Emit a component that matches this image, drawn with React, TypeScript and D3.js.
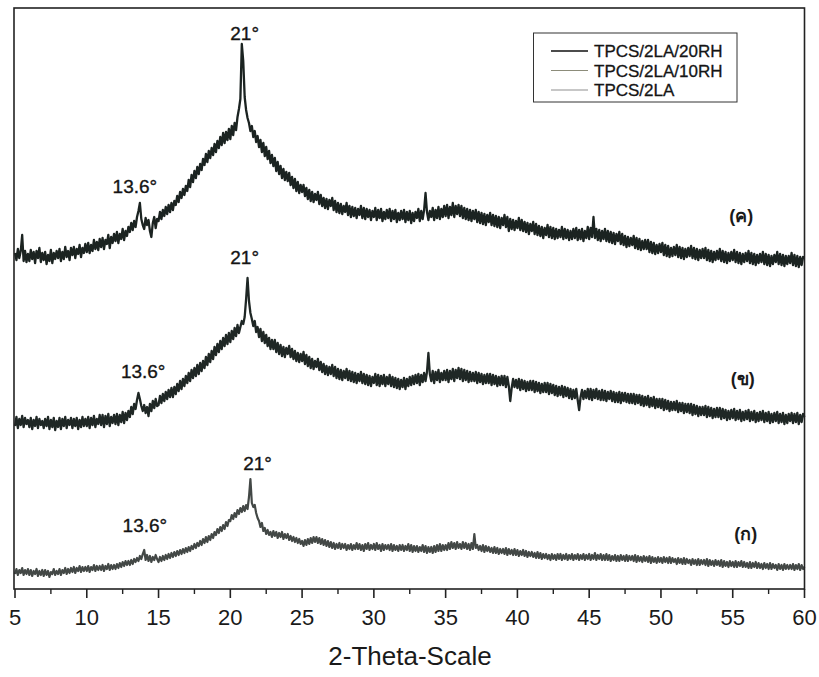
import React from "react";
import * as d3 from "d3";

// Sampling grid: 2θ from 5° to 60° every 0.1°
const THETA_START = 5;
const THETA_STEP = 0.1;

// TPCS/2LA/20RH  (ค) – intensity (a.u.), one row per degree
const SERIES_20RH = [
  336, 329, 340, 331, 338, 354, 328, 338, 327, 335,
  328, 339, 330, 337, 326, 338, 331, 341, 327, 336,
  329, 337, 325, 334, 328, 339, 326, 336, 330, 338,
  331, 340, 328, 337, 330, 342, 332, 338, 329, 341,
  334, 342, 331, 340, 335, 344, 332, 341, 336, 345,
  337, 346, 336, 344, 338, 349, 340, 347, 339, 350,
  342, 351, 340, 349, 345, 354, 341, 352, 346, 355,
  348, 357, 346, 355, 350, 360, 349, 358, 353, 362,
  357, 366, 359, 368, 362, 372, 378, 386, 370, 364,
  360, 371, 364, 369, 358, 352, 366, 372, 361, 370,
  368, 377, 370, 379, 373, 382, 375, 384, 377, 386,
  379, 388, 384, 393, 387, 397, 391, 400, 394, 403,
  398, 409, 402, 414, 407, 418, 411, 422, 415, 425,
  419, 430, 424, 435, 427, 438, 431, 441, 434, 445,
  437, 448, 441, 452, 444, 456, 446, 457, 449, 460,
  450, 463, 454, 466, 459, 472, 480, 490, 545, 528,
  492, 479, 471, 466, 458, 463, 452, 458, 447, 453,
  442, 449, 437, 446, 433, 442, 430, 438, 426, 434,
  423, 431, 418, 427, 415, 423, 411, 420, 409, 417,
  408, 416, 404, 412, 401, 410, 398, 407, 396, 404,
  397, 404, 393, 401, 390, 399, 388, 397, 387, 395,
  389, 397, 385, 394, 383, 391, 381, 390, 380, 389,
  383, 391, 379, 388, 377, 386, 376, 385, 375, 383,
  377, 386, 374, 383, 372, 382, 373, 381, 371, 380,
  374, 383, 371, 381, 370, 380, 372, 379, 369, 378,
  372, 381, 369, 379, 371, 380, 368, 377, 370, 379,
  371, 380, 368, 378, 370, 379, 367, 376, 369, 378,
  370, 379, 367, 377, 369, 378, 366, 376, 368, 377,
  371, 380, 368, 378, 370, 379, 396, 377, 369, 378,
  372, 381, 369, 379, 371, 382, 370, 380, 372, 383,
  373, 384, 371, 382, 374, 386, 372, 383, 375, 384,
  373, 383, 371, 381, 370, 380, 369, 379, 368, 378,
  370, 379, 367, 377, 366, 376, 365, 375, 364, 374,
  367, 376, 364, 374, 363, 373, 362, 372, 361, 371,
  364, 374, 362, 372, 358, 370, 360, 369, 359, 368,
  361, 371, 359, 369, 358, 367, 357, 366, 355, 365,
  358, 367, 355, 365, 354, 363, 353, 362, 351, 361,
  354, 364, 352, 362, 351, 361, 350, 360, 351, 359,
  352, 362, 350, 360, 351, 359, 349, 358, 350, 360,
  351, 361, 349, 359, 350, 360, 348, 358, 351, 362,
  350, 361, 352, 372, 351, 360, 349, 359, 348, 358,
  350, 360, 348, 358, 347, 357, 346, 356, 345, 355,
  348, 357, 345, 355, 344, 353, 342, 352, 343, 351,
  344, 353, 341, 351, 340, 350, 339, 348, 340, 349,
  340, 349, 337, 347, 336, 346, 335, 344, 336, 345,
  337, 346, 334, 344, 333, 343, 332, 341, 333, 342,
  334, 344, 332, 342, 331, 341, 330, 340, 332, 341,
  333, 343, 331, 341, 330, 340, 329, 339, 331, 340,
  331, 341, 329, 339, 328, 338, 327, 337, 329, 338,
  330, 340, 328, 338, 327, 337, 326, 336, 328, 337,
  329, 339, 327, 337, 326, 336, 325, 335, 327, 336,
  328, 338, 326, 336, 325, 335, 324, 334, 326, 335,
  327, 337, 325, 335, 324, 334, 323, 333, 325, 334,
  327, 337, 325, 335, 324, 334, 323, 333, 325, 333,
  326, 336, 324, 334, 323, 333, 322, 332, 324, 332,
  331,
];

// TPCS/2LA/10RH  (ข)
const SERIES_10RH = [
  163, 172, 161, 170, 164, 173, 162, 171, 165, 169,
  162, 171, 160, 169, 163, 172, 161, 170, 164, 168,
  161, 170, 163, 172, 160, 169, 162, 171, 159, 168,
  162, 171, 160, 170, 163, 172, 161, 169, 164, 171,
  161, 170, 163, 171, 160, 169, 162, 172, 163, 170,
  163, 172, 161, 171, 164, 173, 162, 170, 165, 174,
  164, 174, 162, 173, 165, 175, 163, 172, 166, 174,
  165, 175, 164, 174, 167, 177, 166, 176, 169, 178,
  172, 182, 175, 185, 180, 189, 196, 190, 183, 178,
  184, 176, 182, 173, 185, 178, 188, 181, 190, 183,
  184, 193, 186, 195, 188, 197, 190, 199, 192, 201,
  192, 202, 195, 205, 198, 208, 200, 210, 203, 213,
  206, 216, 208, 219, 211, 221, 213, 224, 215, 226,
  218, 228, 221, 232, 224, 235, 227, 238, 230, 242,
  234, 245, 237, 248, 240, 251, 243, 254, 245, 256,
  247, 258, 250, 261, 253, 264, 256, 262, 268, 265,
  272, 290, 311, 288, 276, 270, 263, 268, 257, 262,
  252, 260, 248, 257, 246, 254, 243, 251, 240, 249,
  240, 249, 237, 246, 235, 244, 233, 242, 232, 241,
  235, 243, 232, 240, 230, 238, 228, 236, 227, 235,
  228, 237, 225, 234, 223, 232, 221, 230, 220, 228,
  222, 230, 219, 227, 217, 225, 215, 223, 214, 222,
  215, 224, 213, 222, 211, 220, 210, 219, 209, 218,
  211, 220, 209, 218, 208, 217, 207, 216, 206, 215,
  208, 217, 206, 215, 205, 214, 204, 213, 203, 212,
  206, 215, 204, 214, 203, 213, 205, 214, 203, 212,
  205, 214, 203, 212, 202, 211, 201, 210, 200, 209,
  202, 211, 200, 210, 203, 212, 204, 213, 205, 214,
  206, 215, 204, 214, 207, 216, 208, 217, 236, 215,
  208, 218, 206, 217, 209, 219, 207, 216, 209, 218,
  209, 219, 207, 218, 210, 220, 208, 219, 211, 221,
  210, 220, 208, 219, 209, 218, 207, 217, 208, 216,
  208, 217, 206, 216, 207, 215, 205, 214, 206, 215,
  206, 215, 204, 214, 205, 213, 203, 212, 204, 213,
  204, 213, 202, 212, 203, 188, 201, 210, 202, 209,
  201, 210, 199, 209, 200, 208, 198, 207, 199, 208,
  199, 208, 197, 207, 198, 206, 196, 205, 197, 206,
  197, 206, 195, 205, 196, 204, 194, 203, 193, 202,
  194, 203, 192, 202, 193, 201, 191, 200, 190, 199,
  191, 200, 189, 179, 192, 199, 190, 198, 191, 200,
  190, 200, 189, 199, 191, 200, 190, 198, 189, 199,
  189, 198, 188, 197, 190, 198, 188, 197, 187, 196,
  187, 197, 186, 196, 188, 196, 187, 195, 186, 195,
  186, 195, 185, 194, 186, 194, 184, 193, 183, 192,
  184, 193, 182, 191, 183, 192, 181, 190, 182, 190,
  181, 190, 179, 189, 180, 188, 178, 187, 179, 187,
  179, 188, 177, 186, 178, 186, 176, 185, 177, 185,
  176, 185, 174, 184, 175, 183, 173, 182, 174, 182,
  174, 183, 172, 182, 173, 181, 171, 180, 172, 181,
  172, 181, 170, 180, 171, 179, 169, 178, 170, 179,
  171, 180, 169, 178, 170, 179, 168, 177, 169, 178,
  170, 179, 168, 177, 169, 178, 167, 176, 168, 177,
  169, 178, 167, 176, 168, 177, 166, 175, 167, 176,
  168, 177, 166, 175, 167, 176, 165, 174, 166, 175,
  168, 176, 166, 175, 167, 176, 165, 174, 167, 175,
  172,
];

// TPCS/2LA  (ก)
const SERIES_2LA = [
  15, 20, 14, 19, 16, 21, 14, 19, 15, 20,
  14, 19, 13, 18, 15, 20, 13, 18, 14, 19,
  13, 19, 14, 18, 12, 17, 15, 20, 14, 18,
  15, 20, 14, 19, 16, 21, 15, 20, 16, 21,
  17, 22, 16, 21, 18, 23, 17, 22, 18, 22,
  18, 23, 17, 22, 19, 24, 18, 23, 19, 23,
  19, 24, 18, 23, 20, 25, 19, 24, 20, 24,
  20, 25, 21, 26, 22, 27, 23, 28, 24, 28,
  24, 29, 25, 30, 27, 31, 28, 33, 30, 35,
  39, 29, 34, 28, 33, 27, 32, 29, 34, 30,
  27, 32, 28, 33, 29, 34, 30, 35, 31, 36,
  32, 37, 33, 38, 34, 39, 35, 40, 36, 41,
  37, 42, 38, 43, 40, 45, 41, 46, 43, 48,
  44, 50, 46, 52, 47, 53, 49, 55, 51, 57,
  54, 60, 56, 62, 58, 64, 60, 67, 63, 69,
  68, 74, 70, 76, 72, 79, 75, 81, 77, 83,
  78, 84, 80, 92, 110, 86, 82, 84, 76, 71,
  68, 62, 66, 58, 61, 55, 59, 54, 57, 52,
  58, 53, 57, 51, 56, 52, 57, 50, 55, 51,
  55, 49, 53, 48, 52, 47, 51, 46, 50, 45,
  48, 43, 49, 44, 50, 45, 51, 46, 52, 47,
  52, 46, 51, 45, 50, 44, 49, 43, 48, 42,
  47, 41, 46, 40, 45, 41, 46, 40, 45, 41,
  45, 39, 44, 40, 45, 39, 44, 40, 46, 40,
  45, 39, 44, 38, 45, 40, 46, 39, 44, 40,
  45, 39, 46, 40, 44, 38, 45, 39, 44, 40,
  44, 39, 45, 38, 44, 39, 43, 38, 44, 39,
  44, 38, 43, 39, 45, 38, 44, 37, 43, 38,
  43, 37, 42, 38, 44, 37, 43, 36, 42, 37,
  42, 36, 43, 37, 44, 38, 45, 38, 44, 39,
  44, 39, 46, 40, 47, 41, 46, 40, 47, 41,
  45, 40, 47, 41, 46, 40, 45, 39, 46, 40,
  55, 41, 44, 39, 43, 38, 44, 37, 43, 38,
  42, 37, 41, 36, 42, 36, 41, 35, 40, 36,
  40, 35, 41, 34, 40, 35, 39, 34, 40, 34,
  39, 33, 38, 34, 39, 33, 38, 32, 37, 33,
  37, 32, 36, 31, 37, 31, 36, 30, 35, 31,
  35, 30, 34, 29, 35, 30, 34, 29, 35, 30,
  35, 29, 34, 30, 35, 29, 34, 30, 35, 29,
  34, 30, 35, 29, 34, 30, 35, 29, 34, 30,
  35, 29, 34, 30, 36, 29, 34, 30, 35, 29,
  34, 29, 35, 29, 34, 28, 33, 29, 34, 28,
  33, 28, 34, 29, 33, 28, 34, 28, 33, 29,
  33, 28, 34, 27, 33, 28, 32, 27, 33, 28,
  32, 27, 33, 26, 32, 27, 31, 26, 32, 27,
  31, 26, 32, 27, 31, 26, 32, 26, 31, 27,
  30, 25, 31, 26, 30, 25, 31, 25, 30, 26,
  29, 24, 30, 25, 29, 24, 30, 24, 29, 25,
  29, 24, 30, 23, 29, 24, 28, 23, 29, 24,
  28, 23, 29, 22, 28, 23, 27, 22, 28, 23,
  27, 22, 28, 22, 27, 23, 28, 22, 27, 22,
  26, 21, 27, 21, 26, 22, 27, 21, 26, 21,
  25, 20, 26, 21, 25, 20, 26, 20, 25, 21,
  24, 19, 25, 20, 24, 19, 25, 20, 24, 20,
  24, 20, 25, 19, 24, 20, 25, 19, 24, 20,
  22,
];

const SERIES_NAMES = ["TPCS/2LA/20RH", "TPCS/2LA/10RH", "TPCS/2LA"];
const SERIES_TAGS = ["(ค)", "(ข)", "(ก)"];
const MAJOR_TICKS = [5, 10, 15, 20, 25, 30, 35, 40, 45, 50, 55, 60];
const MINOR_TICKS = [7.5, 12.5, 17.5, 22.5, 27.5, 32.5, 37.5, 42.5, 47.5, 52.5, 57.5];
const X_TITLE = "2-Theta-Scale";
// peak annotations: text, 2θ, intensity
const PEAK_LABELS = [
  { text: "21°", theta: 21.0, value: 549 },
  { text: "13.6°", theta: 13.35, value: 396 },
  { text: "21°", theta: 21.0, value: 325 },
  { text: "13.6°", theta: 13.93, value: 211 },
  { text: "21°", theta: 21.9, value: 119 },
  { text: "13.6°", theta: 14.05, value: 57 },
];
const TAG_POS = [
  { theta: 55.6, value: 367 },
  { theta: 55.7, value: 204 },
  { theta: 55.9, value: 49 },
];

const W = 819;
const H = 677;
const M = { left: 14, right: 804.5, top: 8, bottom: 589 };
const FONT = "'Liberation Sans', Arial, Helvetica, sans-serif";
const COLORS = ["#1b2321", "#1f2725", "#434846"];
const LEGEND_COLORS = ["#111111", "#8c8c7a", "#8f8f8f"];
const LEGEND_WIDTHS = [1.6, 1.2, 1];

export default function App() {
  const x = d3.scaleLinear().domain([5, 60]).range([15, 804.5]);
  const y = d3.scaleLinear().domain([0, 581]).range([M.bottom, M.top]);
  const series = [SERIES_20RH, SERIES_10RH, SERIES_2LA];
  const line = d3
    .line<number>()
    .x((_, i) => x(THETA_START + i * THETA_STEP))
    .y((d) => y(d));

  return (
    <svg
      width={W}
      height={H}
      style={{ position: "absolute", left: 0, top: 0, background: "#fff" }}
      fontFamily={FONT}
    >
      <rect x={0} y={0} width={W} height={H} fill="#fff" />
      {series.map((s, k) => (
        <path
          key={k}
          d={line(s) || ""}
          fill="none"
          stroke={COLORS[k]}
          strokeWidth={k === 2 ? 2.2 : 2.3}
          strokeLinejoin="round"
        />
      ))}

      {/* frame */}
      <rect
        x={M.left}
        y={M.top}
        width={M.right - M.left}
        height={M.bottom - M.top}
        fill="none"
        stroke="#222"
        strokeWidth={1.6}
      />
      {MAJOR_TICKS.map((t) => (
        <g key={"M" + t}>
          <line x1={x(t)} x2={x(t)} y1={M.bottom} y2={M.bottom + 9} stroke="#222" strokeWidth={1.6} />
          <text x={x(t)} y={625} textAnchor="middle" fontSize={22} fill="#1a1a1a">
            {t}
          </text>
        </g>
      ))}
      {MINOR_TICKS.map((t) => (
        <line key={"m" + t} x1={x(t)} x2={x(t)} y1={M.bottom} y2={M.bottom + 5} stroke="#222" strokeWidth={1.4} />
      ))}
      <text x={410} y={665} textAnchor="middle" fontSize={26} fill="#1a1a1a">
        {X_TITLE}
      </text>

      {PEAK_LABELS.map((p, i) => (
        <text
          key={i}
          x={x(p.theta)}
          y={y(p.value)}
          textAnchor="middle"
          fontSize={19}
          fill="#151515"
          stroke="#151515"
          strokeWidth={0.35}
        >
          {p.text}
        </text>
      ))}
      {SERIES_TAGS.map((t, i) => (
        <text
          key={t}
          x={x(TAG_POS[i].theta)}
          y={y(TAG_POS[i].value)}
          textAnchor="middle"
          fontSize={18}
          fontWeight="bold"
          fill="#1a1a1a"
        >
          {t}
        </text>
      ))}

      {/* legend */}
      <rect x={533.5} y={33} width={203.5} height={69} fill="#fff" stroke="#333" strokeWidth={1} />
      {SERIES_NAMES.map((n, i) => (
        <g key={n}>
          <line
            x1={551}
            x2={588}
            y1={51 + i * 19.5}
            y2={51 + i * 19.5}
            stroke={LEGEND_COLORS[i]}
            strokeWidth={LEGEND_WIDTHS[i]}
          />
          <text x={594} y={57 + i * 19.5} fontSize={17} fill="#151515" stroke="#151515" strokeWidth={0.3}>
            {n}
          </text>
        </g>
      ))}
    </svg>
  );
}
